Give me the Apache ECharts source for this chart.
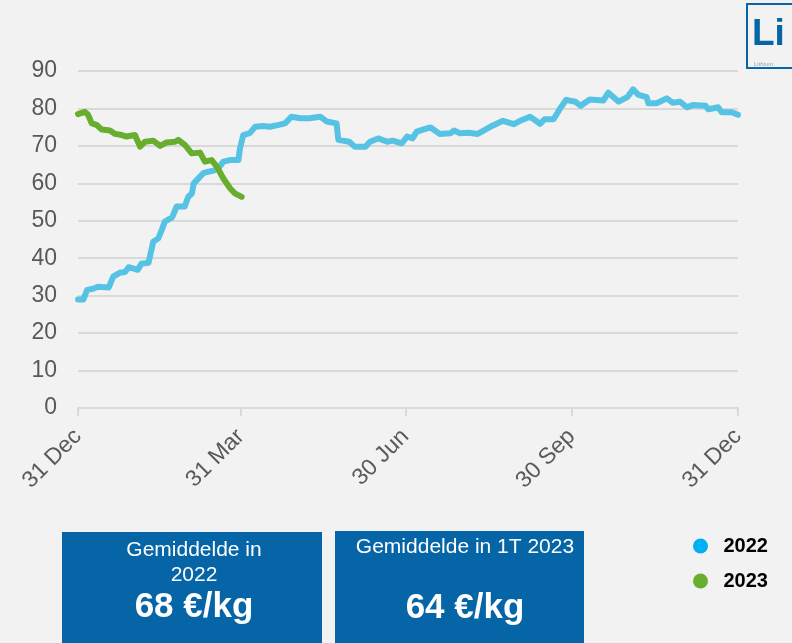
<!DOCTYPE html>
<html>
<head>
<meta charset="utf-8">
<script src="https://cdn.jsdelivr.net/npm/echarts@6/dist/echarts.min.js"></script>
<style>
  html, body { margin: 0; padding: 0; background: #f2f2f2; }
  #chart { width: 792px; height: 643px; }
</style>
</head>
<body>
<div id="chart"></div>
<script>
  // days since 31 Dec, price in €/kg
  var days2022 = [0, 3, 5, 8, 11, 17, 19.5, 23, 26, 28, 33, 35, 39, 40, 41.6, 44.4, 46.3, 48, 52, 54.6, 59, 61, 63, 64, 67.5, 69.3,
    72, 75, 77.6, 80.4, 84, 88.7, 89.6, 91.4, 95, 98, 102.5, 106, 111, 114.5, 118, 123, 128, 134, 137.6, 143, 144, 150, 153,
    159, 161.5, 166, 171, 174, 179, 182, 185, 187.3, 193, 195, 200, 206, 208, 211, 216, 221, 228, 235, 241, 244.5, 250,
    255.5, 258, 263, 266.6, 270, 275, 278, 283, 290.5, 293.3, 299, 304, 307, 310, 314.5, 315.4, 320, 325.6, 329, 333,
    336.7, 340, 347, 348.6, 354, 356, 361.5, 365];
  var price2022 = [29.0, 29.0, 31.5, 31.8, 32.4, 32.2, 35.1, 36.1, 36.3, 37.6, 36.9, 38.5, 38.8, 40.9, 44.4, 45.3, 47.5, 49.8, 50.9,
    53.8, 53.8, 56.4, 57.3, 60.0, 61.8, 62.7, 63.1, 63.4, 64.0, 65.8, 66.2, 66.2, 69.4, 72.9, 73.4, 75.1, 75.3, 75.1, 75.6,
    76.0, 77.8, 77.4, 77.4, 77.8, 76.5, 76.0, 71.6, 71.1, 69.8, 69.8, 71.1, 72.0, 71.1, 71.4, 70.7, 72.5, 72.0, 73.8, 74.7,
    74.9, 73.2, 73.4, 74.1, 73.4, 73.5, 73.2, 75.1, 76.7, 75.8, 76.7, 77.8, 75.9, 77.1, 77.1, 80.0, 82.3, 81.8, 80.7, 82.4,
    82.1, 84.2, 81.8, 83.1, 85.1, 83.6, 83.0, 81.4, 81.4, 82.7, 81.5, 81.8, 80.3, 80.9, 80.7, 79.8, 80.3, 79.0, 79.0, 78.3];
  var days2023 = [0, 3.7, 5.6, 7.6, 10.3, 13.1, 17.7, 20.5, 24.2, 26.9, 31.5, 34.3, 37.1, 41.6, 45.4, 49, 53.7, 55.5, 59.2,
    62.9, 67.5, 70.2, 73.9, 76.7, 80.4, 84.1, 86.8, 90.5];
  var price2023 = [78.5, 79.1, 78.3, 76.0, 75.6, 74.4, 74.1, 73.2, 72.9, 72.5, 72.9, 69.8, 71.1, 71.4, 70.0, 70.9, 71.1, 71.6,
    70.2, 68.0, 68.2, 65.8, 66.2, 64.5, 61.3, 58.7, 57.3, 56.4];
  var tickDays = [0, 90, 181, 273, 365];
  var tickLabels = ['31 Dec', '31 Mar', '30 Jun', '30 Sep', '31 Dec'];
  var seriesNames = ['2022', '2023'];
  var avgTitles = ['Gemiddelde in\n2022', 'Gemiddelde in 1T 2023'];
  var avgValues = ['68 €/kg', '64 €/kg'];

  function pairs(xs, ys) {
    return xs.map(function (x, i) { return [x, ys[i]]; });
  }

  var chart = echarts.init(document.getElementById('chart'));
  var font = 'Liberation Sans, Arial, sans-serif';
  var boxBlue = '#0565a6';

  chart.setOption({
    backgroundColor: '#f2f2f2',
    animation: false,
    grid: { left: 78, right: 54, top: 71, bottom: 235 },
    legend: {
      orient: 'vertical',
      left: 688,
      top: 531,
      itemGap: 15,
      itemWidth: 36,
      itemHeight: 15,
      icon: 'circle',
      textStyle: { fontFamily: font, fontSize: 20, fontWeight: 'bold', color: '#000' },
      data: [
        { name: seriesNames[0], itemStyle: { color: '#00b0f0' } },
        { name: seriesNames[1], itemStyle: { color: '#6aae2f' } }
      ]
    },
    xAxis: {
      type: 'value',
      min: 0,
      max: 365,
      axisLine: { lineStyle: { color: '#d9d9d9', width: 2 } },
      axisTick: { customValues: tickDays, length: 8, lineStyle: { color: '#d9d9d9', width: 2 } },
      axisLabel: {
        customValues: tickDays,
        rotate: 45,
        margin: 25,
        fontFamily: font,
        fontSize: 23,
        color: '#595959',
        formatter: function (v) { return tickLabels[tickDays.indexOf(v)]; }
      },
      splitLine: { show: false }
    },
    yAxis: {
      type: 'value',
      min: 0,
      max: 90,
      interval: 10,
      axisLine: { show: false },
      axisTick: { show: false },
      axisLabel: { margin: 21, fontFamily: font, fontSize: 23, color: '#595959' },
      splitLine: { lineStyle: { color: '#d9d9d9', width: 2 } }
    },
    series: [
      {
        name: seriesNames[0],
        type: 'line',
        data: pairs(days2022, price2022),
        showSymbol: false,
        lineStyle: { color: '#56c3e5', width: 6, join: 'round', cap: 'round' },
        itemStyle: { color: '#56c3e5' },
        z: 2
      },
      {
        name: seriesNames[1],
        type: 'line',
        data: pairs(days2023, price2023),
        showSymbol: false,
        lineStyle: { color: '#68ae2e', width: 6, join: 'round', cap: 'round' },
        itemStyle: { color: '#68ae2e' },
        z: 3
      }
    ],
    graphic: [
      { type: 'rect', shape: { x: 62, y: 532, width: 260, height: 111 }, style: { fill: boxBlue } },
      { type: 'rect', shape: { x: 335, y: 531, width: 249, height: 112 }, style: { fill: boxBlue } },
      {
        type: 'text', x: 194, y: 538,
        style: { text: avgTitles[0], fill: '#fff', font: '21px ' + font, align: 'center', lineHeight: 25 }
      },
      {
        type: 'text', x: 194, y: 590,
        style: { text: avgValues[0], fill: '#fff', font: 'bold 35px ' + font, align: 'center' }
      },
      {
        type: 'text', x: 465, y: 537,
        style: { text: avgTitles[1], fill: '#fff', font: '21px ' + font, align: 'center' }
      },
      {
        type: 'text', x: 465, y: 591,
        style: { text: avgValues[1], fill: '#fff', font: 'bold 35px ' + font, align: 'center' }
      },
      // logo
      { type: 'rect', shape: { x: 747, y: 4, width: 50, height: 64 }, style: { fill: '#f2f2f2', stroke: boxBlue, lineWidth: 2 } },
      {
        type: 'text', x: 752, y: 16,
        style: { text: 'Li', fill: boxBlue, font: 'bold 37px ' + font }
      },
      {
        type: 'text', x: 754, y: 61,
        style: { text: 'Lithium', fill: '#8aa6c0', font: '6px ' + font }
      }
    ]
  });
</script>
</body>
</html>
